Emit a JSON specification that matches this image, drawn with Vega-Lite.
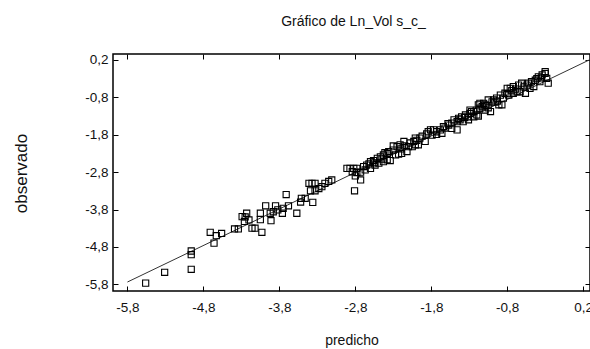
{
  "$schema": "https://vega.github.io/schema/vega-lite/v6.json",
  "autosize": "none",
  "width": 477,
  "height": 237,
  "padding": {"left": 113, "top": 54, "right": 0, "bottom": 58},
  "background": "white",
  "title": {"text": "Gráfico de Ln_Vol s_c_", "anchor": "middle", "offset": 24, "fontSize": 14, "fontWeight": "normal", "font": "Liberation Sans", "color": "#111", "dx": 2},
  "datasets": {
    "pts": [
      {"p": -5.56, "o": -5.77}, {"p": -5.31, "o": -5.48}, {"p": -4.96, "o": -5.40}, {"p": -4.96, "o": -4.91},
      {"p": -4.96, "o": -5.01}, {"p": -4.71, "o": -4.41}, {"p": -4.63, "o": -4.50}, {"p": -4.66, "o": -4.70},
      {"p": -4.56, "o": -4.44}, {"p": -4.39, "o": -4.32}, {"p": -4.34, "o": -4.32}, {"p": -4.29, "o": -3.99},
      {"p": -4.26, "o": -4.12}, {"p": -4.23, "o": -3.90}, {"p": -4.20, "o": -4.08}, {"p": -4.25, "o": -4.00},
      {"p": -4.16, "o": -4.30}, {"p": -4.12, "o": -4.30}, {"p": -4.05, "o": -3.90}, {"p": -4.05, "o": -4.07},
      {"p": -4.03, "o": -4.41}, {"p": -3.98, "o": -3.70}, {"p": -3.92, "o": -3.90}, {"p": -3.91, "o": -4.10},
      {"p": -3.88, "o": -3.86}, {"p": -3.85, "o": -3.70}, {"p": -3.82, "o": -3.81}, {"p": -3.76, "o": -3.90},
      {"p": -3.75, "o": -3.77}, {"p": -3.71, "o": -3.40}, {"p": -3.68, "o": -3.70}, {"p": -3.57, "o": -3.90},
      {"p": -3.52, "o": -3.60}, {"p": -3.51, "o": -3.50}, {"p": -3.46, "o": -3.50}, {"p": -3.41, "o": -3.10},
      {"p": -3.37, "o": -3.10}, {"p": -3.33, "o": -3.10}, {"p": -3.39, "o": -3.30}, {"p": -3.33, "o": -3.30},
      {"p": -3.36, "o": -3.61}, {"p": -3.28, "o": -3.24}, {"p": -3.24, "o": -3.19}, {"p": -3.20, "o": -3.10},
      {"p": -3.15, "o": -3.05}, {"p": -3.11, "o": -3.01}, {"p": -2.91, "o": -2.70}, {"p": -2.87, "o": -2.70},
      {"p": -2.82, "o": -2.70}, {"p": -2.78, "o": -2.70}, {"p": -2.84, "o": -2.79}, {"p": -2.78, "o": -2.81},
      {"p": -2.73, "o": -2.80}, {"p": -2.80, "o": -2.90}, {"p": -2.73, "o": -3.01}, {"p": -2.81, "o": -3.30},
      {"p": -2.69, "o": -2.65}, {"p": -2.65, "o": -2.61}, {"p": -2.60, "o": -2.52}, {"p": -2.56, "o": -2.49},
      {"p": -2.51, "o": -2.43}, {"p": -2.47, "o": -2.39}, {"p": -2.43, "o": -2.34}, {"p": -2.38, "o": -2.30},
      {"p": -2.67, "o": -2.74}, {"p": -2.60, "o": -2.70}, {"p": -2.54, "o": -2.61}, {"p": -2.49, "o": -2.56},
      {"p": -2.43, "o": -2.52}, {"p": -2.38, "o": -2.47}, {"p": -2.36, "o": -2.25}, {"p": -2.34, "o": -2.49},
      {"p": -2.41, "o": -2.28}, {"p": -2.30, "o": -2.21}, {"p": -2.25, "o": -2.12}, {"p": -2.21, "o": -2.07},
      {"p": -2.16, "o": -1.98}, {"p": -2.27, "o": -2.34}, {"p": -2.23, "o": -2.32}, {"p": -2.19, "o": -2.30},
      {"p": -2.12, "o": -2.25}, {"p": -2.30, "o": -2.10}, {"p": -2.10, "o": -2.12}, {"p": -2.05, "o": -2.12},
      {"p": -2.01, "o": -2.07}, {"p": -1.97, "o": -2.07}, {"p": -2.01, "o": -1.89}, {"p": -1.95, "o": -1.89},
      {"p": -1.88, "o": -1.98}, {"p": -1.81, "o": -1.67}, {"p": -1.77, "o": -1.67}, {"p": -1.73, "o": -1.72},
      {"p": -1.68, "o": -1.67}, {"p": -1.79, "o": -1.81}, {"p": -1.73, "o": -1.79}, {"p": -1.66, "o": -1.76},
      {"p": -1.64, "o": -1.58}, {"p": -1.57, "o": -1.54}, {"p": -1.53, "o": -1.49}, {"p": -1.46, "o": -1.45},
      {"p": -1.46, "o": -1.67}, {"p": -1.53, "o": -1.63}, {"p": -1.44, "o": -1.36}, {"p": -1.40, "o": -1.32},
      {"p": -1.35, "o": -1.27}, {"p": -1.29, "o": -1.23}, {"p": -1.24, "o": -1.18}, {"p": -1.38, "o": -1.45},
      {"p": -1.31, "o": -1.40}, {"p": -1.29, "o": -1.14}, {"p": -1.20, "o": -1.14}, {"p": -1.16, "o": -1.09},
      {"p": -1.31, "o": -1.32}, {"p": -1.24, "o": -1.32}, {"p": -1.20, "o": -1.27}, {"p": -1.16, "o": -0.96},
      {"p": -1.11, "o": -0.96}, {"p": -1.09, "o": -1.14}, {"p": -1.02, "o": -1.18}, {"p": -1.05, "o": -0.87},
      {"p": -0.98, "o": -0.87}, {"p": -0.94, "o": -0.82}, {"p": -0.89, "o": -0.74}, {"p": -0.83, "o": -0.69},
      {"p": -0.91, "o": -1.00}, {"p": -0.87, "o": -1.00}, {"p": -0.80, "o": -0.56}, {"p": -0.76, "o": -0.56},
      {"p": -0.72, "o": -0.51}, {"p": -0.78, "o": -0.74}, {"p": -0.72, "o": -0.69}, {"p": -0.65, "o": -0.47},
      {"p": -0.61, "o": -0.42}, {"p": -0.67, "o": -0.65}, {"p": -0.63, "o": -0.65}, {"p": -0.56, "o": -0.69},
      {"p": -0.54, "o": -0.47}, {"p": -0.48, "o": -0.38}, {"p": -0.43, "o": -0.34}, {"p": -0.50, "o": -0.56},
      {"p": -0.45, "o": -0.51}, {"p": -0.39, "o": -0.25}, {"p": -0.34, "o": -0.20}, {"p": -0.30, "o": -0.16},
      {"p": -0.37, "o": -0.38}, {"p": -0.28, "o": -0.29}, {"p": -0.26, "o": -0.42}, {"p": -0.30, "o": -0.11},
      {"p": -1.18, "o": -1.00}, {"p": -1.09, "o": -1.00}, {"p": -1.00, "o": -0.92}, {"p": -1.18, "o": -1.30},
      {"p": -1.05, "o": -1.08},
      {"p": -2.20, "o": -2.18}, {"p": -2.15, "o": -2.10}, {"p": -2.08, "o": -2.02}, {"p": -2.03, "o": -1.98},
      {"p": -1.99, "o": -1.95}, {"p": -1.92, "o": -1.84}, {"p": -1.86, "o": -1.78}, {"p": -1.84, "o": -1.72},
      {"p": -1.62, "o": -1.62}, {"p": -1.58, "o": -1.50}, {"p": -1.50, "o": -1.40}, {"p": -1.42, "o": -1.40},
      {"p": -1.36, "o": -1.34}, {"p": -1.27, "o": -1.18}, {"p": -1.13, "o": -1.05}, {"p": -1.07, "o": -1.02},
      {"p": -0.96, "o": -0.93}, {"p": -0.93, "o": -0.90}, {"p": -0.85, "o": -0.82}, {"p": -0.80, "o": -0.70},
      {"p": -0.74, "o": -0.62}, {"p": -0.69, "o": -0.58}, {"p": -0.58, "o": -0.52}, {"p": -0.52, "o": -0.42},
      {"p": -0.41, "o": -0.30}, {"p": -0.35, "o": -0.28}, {"p": -2.55, "o": -2.55}, {"p": -2.45, "o": -2.45},
      {"p": -2.62, "o": -2.58}
    ],
    "fit": [{"p": -5.8, "o": -5.74}, {"p": 0.29, "o": 0.21}]
  },
  "layer": [
    {
      "data": {"name": "fit"},
      "mark": {"type": "line", "color": "#333", "strokeWidth": 1, "clip": true},
      "encoding": {
        "x": {"field": "p", "type": "quantitative", "scale": {"domain": [-5.99, 0.29], "nice": false, "zero": false},
              "axis": {"orient": "top", "values": [-5.8, -4.8, -3.8, -2.8, -1.8, -0.8, 0.2], "labels": false, "title": null}},
        "y": {"field": "o", "type": "quantitative", "scale": {"domain": [-5.98, 0.36], "nice": false, "zero": false},
              "axis": {"orient": "right", "values": [-5.8, -4.8, -3.8, -2.8, -1.8, -0.8, 0.2], "labels": false, "title": null}}
      }
    },
    {
      "data": {"name": "pts"},
      "mark": {"type": "point", "shape": "square", "filled": false, "stroke": "black", "strokeWidth": 1.1, "size": 38, "opacity": 1},
      "encoding": {
        "x": {"field": "p", "type": "quantitative",
              "axis": {"orient": "bottom", "values": [-5.8, -4.8, -3.8, -2.8, -1.8, -0.8, 0.2], "title": "predicho",
                       "labelExpr": "replace(toString(datum.value), '.', ',')", "labelPadding": 14, "titleY": 53, "titleBaseline": "alphabetic", "titleFontSize": 14}},
        "y": {"field": "o", "type": "quantitative",
              "axis": {"orient": "left", "values": [-5.8, -4.8, -3.8, -2.8, -1.8, -0.8, 0.2], "title": "observado",
                       "labelExpr": "replace(toString(datum.value), '.', ',')", "labelPadding": 10, "titleX": -92, "titleY": 119, "titleAngle": -90, "titleAlign": "center", "titleBaseline": "middle", "titleFontSize": 17}}
      }
    }
  ],
  "resolve": {"axis": {"x": "independent", "y": "independent"}},
  "config": {
    "view": {"stroke": "black", "strokeWidth": 1.5},
    "axis": {
      "domain": false, "grid": false, "ticks": true, "tickSize": -5, "tickColor": "black", "tickWidth": 1,
      "labelFont": "Liberation Sans", "labelFontSize": 13.5, "labelColor": "#111",
      "titleFont": "Liberation Sans", "titleFontWeight": "normal", "titleColor": "#111"
    }
  }
}
